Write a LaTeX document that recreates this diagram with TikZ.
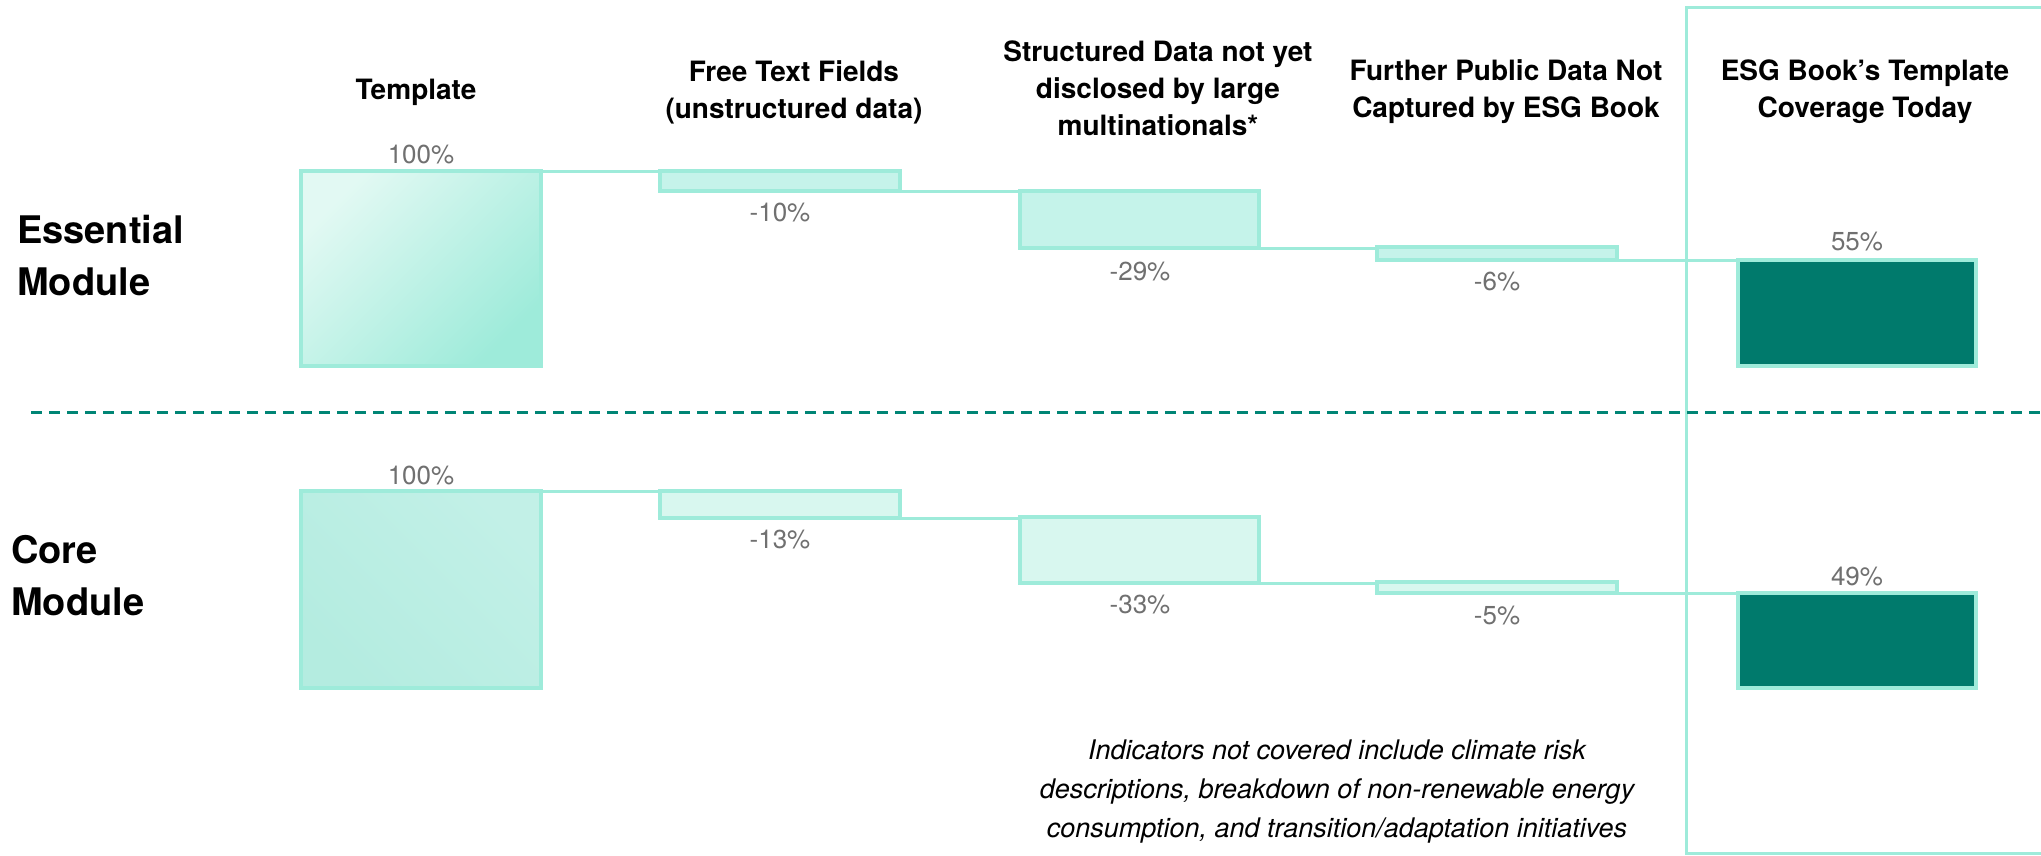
\documentclass[tikz,border=0pt]{standalone}
\usepackage{fontspec}
\setmainfont{TeX Gyre Heros}
\definecolor{mint}{HTML}{9EEBDA}
\definecolor{mintlight}{HTML}{C5F3EA}
\definecolor{mintpale}{HTML}{D8F7EF}
\definecolor{mintwhite}{HTML}{E2F9F3}
\definecolor{mintcore}{HTML}{C2F0E7}
\definecolor{mintcoredark}{HTML}{B4ECE0}
\definecolor{darkteal}{HTML}{007A6C}
\definecolor{dashteal}{HTML}{008575}
\definecolor{pctgray}{HTML}{707070}
\begin{document}
\begin{tikzpicture}[x=1pt,y=-1pt,
  bar/.style={draw=mint, line width=4pt, inner sep=0pt, outer sep=0pt, anchor=north west, rectangle},
  link/.style={draw=mint, line width=3pt},
  head/.style={font=\bfseries\fontsize{28}{37}\selectfont, align=center, text=black, inner sep=0pt},
  pct/.style={font=\fontsize{26}{30}\selectfont, text=pctgray, inner sep=0pt},
  modlabel/.style={font=\bfseries\fontsize{38}{52}\selectfont, align=left, anchor=west, inner sep=0pt},
  note/.style={font=\itshape\fontsize{27}{39}\selectfont, align=center, inner sep=0pt}
]
\useasboundingbox (0,0) rectangle (2041,855);

% ESG coverage frame
\draw[mint, line width=3pt] (2060,7) -- (1686,7) -- (1686,853) -- (2060,853);

% dashed separator
\coordinate (dsL) at (31,412);
\coordinate (dsR) at (2045,412);
\draw[dashteal, line width=3pt, dash pattern=on 11pt off 7pt] (dsL) -- (dsR);

% headings
\node[head] (hT) at (416,92) {Template};
\node[head] (hF) at (794,92) {Free Text Fields\\(unstructured data)};
\node[head] (hS) at (1158,88) {Structured Data not yet\\disclosed by large\\multinationals*};
\node[head] (hP) at (1506,92) {Further Public Data Not\\Captured by ESG Book};
\node[head] (hE) at (1865,92) {ESG Book’s Template\\Coverage Today};

% module labels
\node[modlabel] (mE) at (17,256) {Essential\\Module};
\node[modlabel] (mC) at (11,576) {Core\\Module};

% essential bars
\node[bar, minimum width=240pt, minimum height=195pt, top color=mintwhite, bottom color=mint, shading angle=45] (T1) at (301,171) {};
\node[bar, fill=mintlight, minimum width=240pt, minimum height=20pt] (F1) at (660,171) {};
\node[bar, fill=mintlight, minimum width=239pt, minimum height=57pt] (S1) at (1020,191) {};
\node[bar, fill=mintlight, minimum width=240pt, minimum height=13pt] (P1) at (1377,247) {};
\node[bar, fill=darkteal, minimum width=238pt, minimum height=106pt] (E1) at (1738,260) {};

\draw[link] (T1.north east) -- (T1.north east -| F1.west);
\draw[link] (F1.south east) -- (F1.south east -| S1.west);
\draw[link] (S1.south east) -- (S1.south east -| P1.west);
\draw[link] (P1.south east) -- (P1.south east -| E1.west);

% core bars
\node[bar, top color=mintcore, bottom color=mintcoredark, shading angle=-45, minimum width=240pt, minimum height=197pt] (T2) at (301,491) {};
\node[bar, fill=mintpale, minimum width=240pt, minimum height=27pt] (F2) at (660,491) {};
\node[bar, fill=mintpale, minimum width=239pt, minimum height=66pt] (S2) at (1020,517) {};
\node[bar, fill=mintpale, minimum width=240pt, minimum height=11pt] (P2) at (1377,582) {};
\node[bar, fill=darkteal, minimum width=238pt, minimum height=95pt] (E2) at (1738,593) {};

\draw[link] (T2.north east) -- (T2.north east -| F2.west);
\draw[link] (F2.south east) -- (F2.south east -| S2.west);
\draw[link] (S2.south east) -- (S2.south east -| P2.west);
\draw[link] (P2.south east) -- (P2.south east -| E2.west);

% percentages essential
\node[pct] (pT1) at (421,155) {100\%};
\node[pct] (pF1) at (780,213) {-10\%};
\node[pct] (pS1) at (1140,272) {-29\%};
\node[pct] (pP1) at (1497,282) {-6\%};
\node[pct] (pE1) at (1857,242) {55\%};

% percentages core
\node[pct] (pT2) at (421,476) {100\%};
\node[pct] (pF2) at (780,540) {-13\%};
\node[pct] (pS2) at (1140,605) {-33\%};
\node[pct] (pP2) at (1497,616) {-5\%};
\node[pct] (pE2) at (1857,577) {49\%};

% footnote
\node[note] (fn) at (1337,792) {Indicators not covered include climate risk\\descriptions, breakdown of non-renewable energy\\consumption, and transition/adaptation initiatives};
\end{tikzpicture}
\end{document}
